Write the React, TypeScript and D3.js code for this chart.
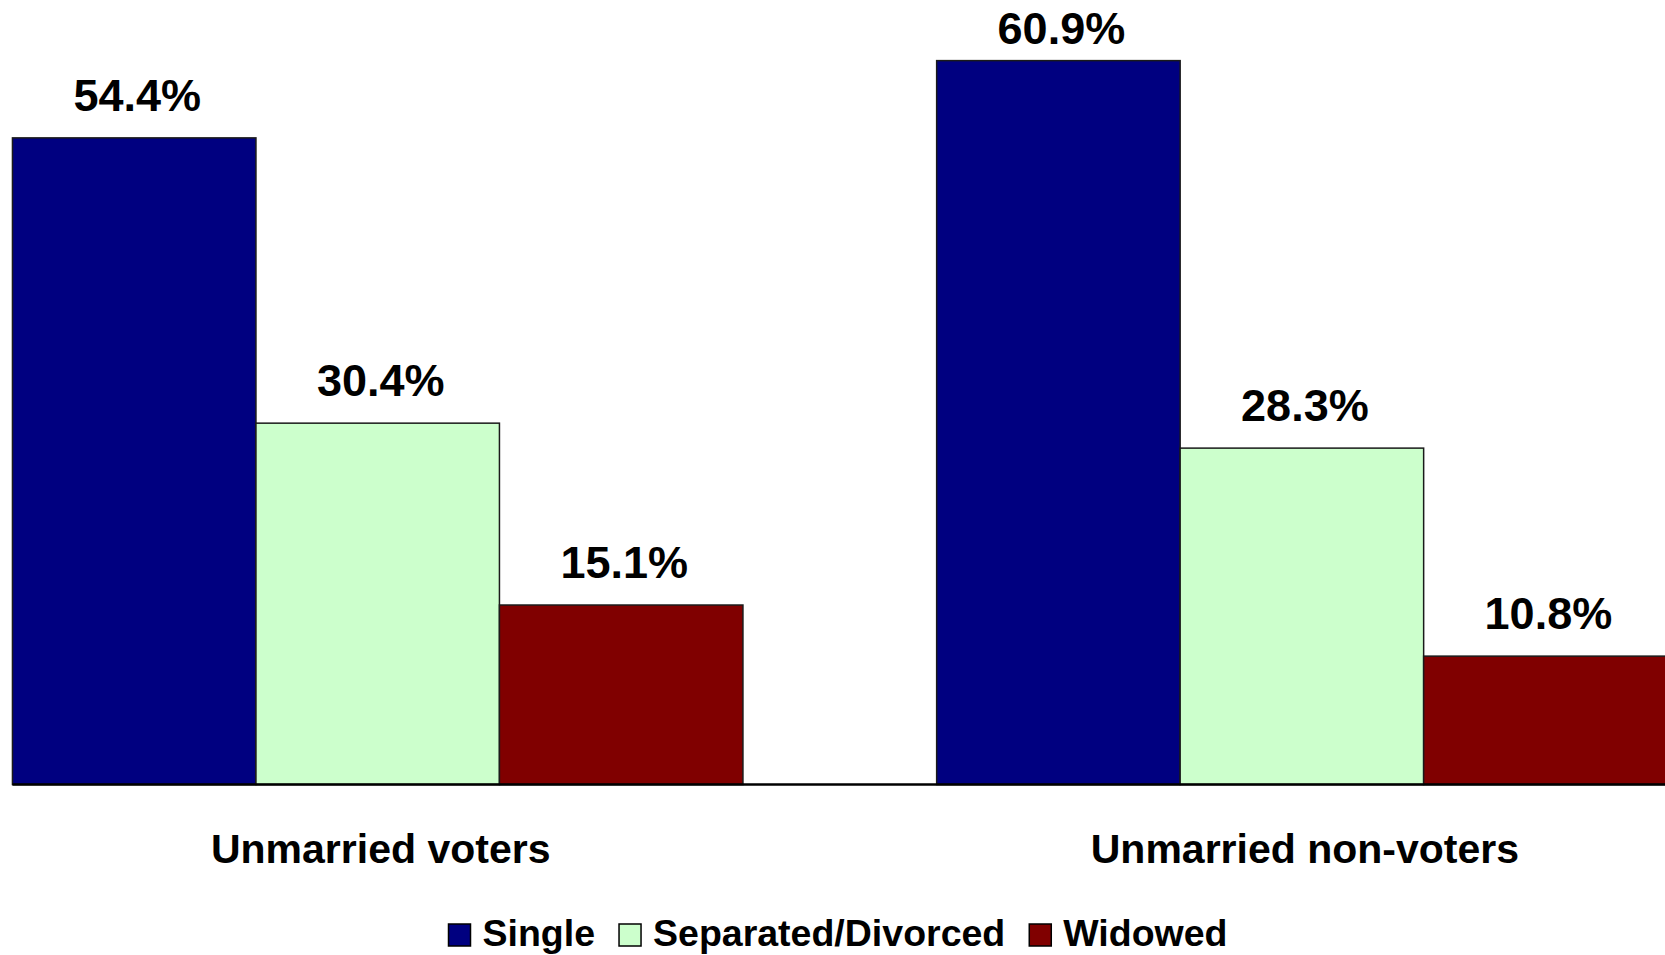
import { useEffect, useRef } from "react";
import * as d3 from "d3";

const GROUPS = ["Unmarried voters", "Unmarried non-voters"];
const SERIES = ["Single", "Separated/Divorced", "Widowed"];
const COLORS = ["#000080", "#CCFFCC", "#800000"];
// values per series, in GROUPS order
const SINGLE = [54.4, 60.9];
const SEPARATED = [30.4, 28.3];
const WIDOWED = [15.1, 10.8];
const VALUES = [SINGLE, SEPARATED, WIDOWED];

const FONT = "'Liberation Sans', Arial, Helvetica, sans-serif";

export default function App() {
  const ref = useRef<SVGSVGElement>(null);

  useEffect(() => {
    document.body.style.margin = "0";
    const el = ref.current;
    if (!el) return;
    const W = 1665, H = 955;
    const base = 784.5;
    const svg = d3.select(el).attr("width", W).attr("height", H).attr("viewBox", `0 0 ${W} ${H}`);
    svg.selectAll("*").remove();

    const x0 = d3.scaleBand<string>().domain(GROUPS).range([-84.4, 1764]).paddingInner(0.2096).paddingOuter(0.1048);
    const x1 = d3.scaleBand<string>().domain(SERIES).range([0, x0.bandwidth()]);
    const y = d3.scaleLinear().domain([0, 66]).range([base, 0]);

    const cells = GROUPS.flatMap((g, gi) =>
      SERIES.map((s, si) => ({ g, s, v: VALUES[si][gi], color: COLORS[si] }))
    );

    svg.append("g").selectAll("rect").data(cells).join("rect")
      .attr("x", (d) => (x0(d.g) ?? 0) + (x1(d.s) ?? 0))
      .attr("y", (d) => y(d.v))
      .attr("width", x1.bandwidth())
      .attr("height", (d) => base - y(d.v))
      .attr("fill", (d) => d.color)
      .attr("stroke", "#1a1a1a").attr("stroke-width", 1.5);

    svg.append("line")
      .attr("x1", x0(GROUPS[0]) ?? 0).attr("x2", W)
      .attr("y1", base).attr("y2", base)
      .attr("stroke", "#000").attr("stroke-width", 2.5);

    svg.append("g").selectAll("text").data(cells).join("text")
      .attr("x", (d) => (x0(d.g) ?? 0) + (x1(d.s) ?? 0) + x1.bandwidth() / 2 + 3)
      .attr("y", (d) => Math.max(y(d.v) - 27, 44))
      .attr("text-anchor", "middle")
      .attr("font-family", FONT).attr("font-weight", "bold").attr("font-size", 45)
      .attr("fill", "#000")
      .text((d) => `${d.v.toFixed(1)}%`);

    svg.append("g").selectAll("text").data(GROUPS).join("text")
      .attr("x", (d) => (x0(d) ?? 0) + x0.bandwidth() / 2 + 3)
      .attr("y", 863)
      .attr("text-anchor", "middle")
      .attr("font-family", FONT).attr("font-weight", "bold").attr("font-size", 41)
      .attr("fill", "#000")
      .text((d) => d);

    // legend
    const lg = svg.append("g");
    const sq = 22, gapText = 12, gapItem = 24;
    let cx = 0;
    SERIES.forEach((s, i) => {
      lg.append("rect").attr("x", cx).attr("y", 924).attr("width", sq).attr("height", sq)
        .attr("fill", COLORS[i]).attr("stroke", "#000").attr("stroke-width", 1.5);
      const t = lg.append("text").attr("x", cx + sq + gapText).attr("y", 946)
        .attr("font-family", FONT).attr("font-weight", "bold").attr("font-size", 37.5)
        .attr("fill", "#000").text(s);
      const w = (t.node() as SVGTextElement).getComputedTextLength();
      cx += sq + gapText + w + gapItem;
    });
    const total = cx - gapItem;
    lg.attr("transform", `translate(${838 - total / 2},0)`);
  }, []);

  return <svg ref={ref} style={{ display: "block" }} role="img" aria-label="Unmarried voters and non-voters by marital status" />;
}
